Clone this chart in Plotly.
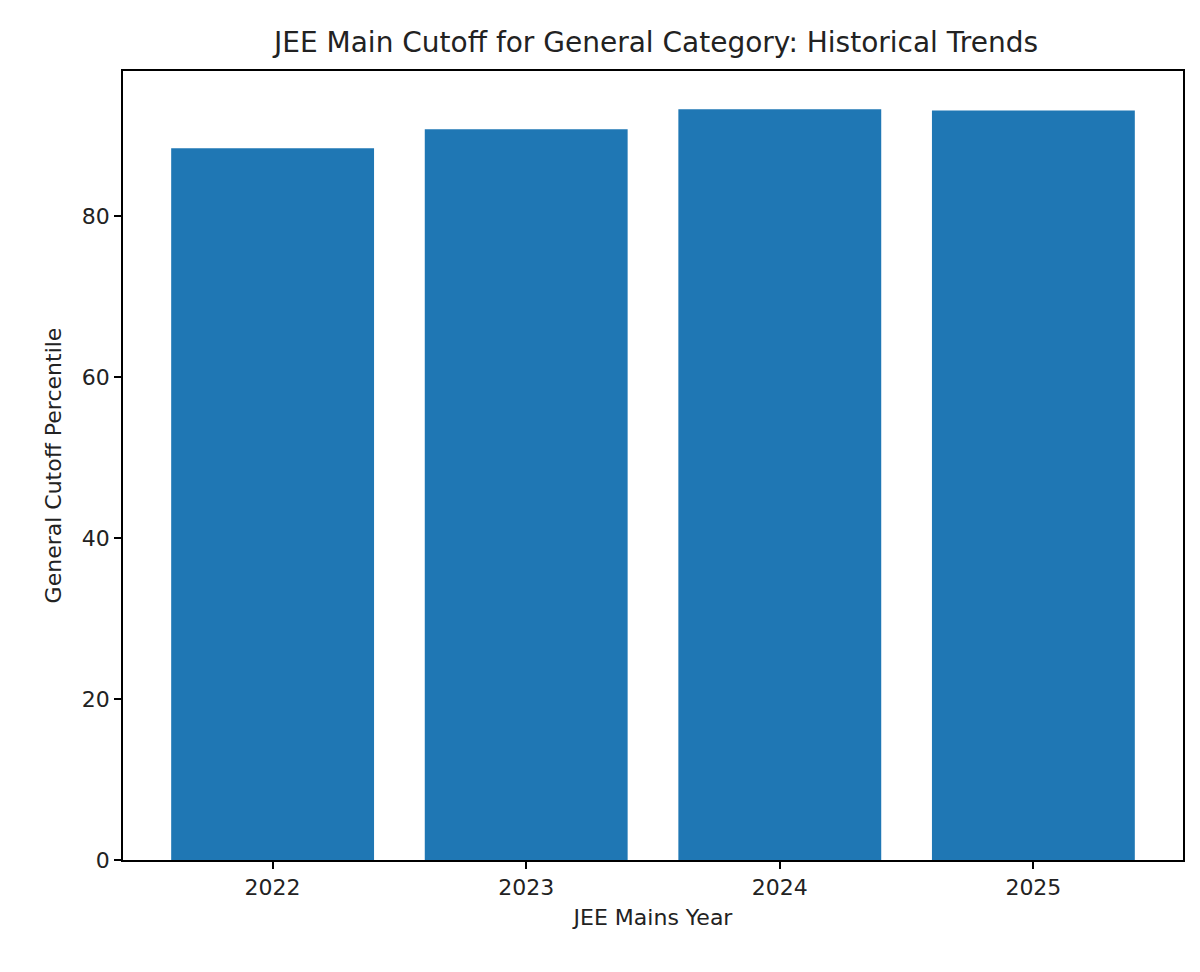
import plotly.graph_objects as go

years = ["2022", "2023", "2024", "2025"]
cutoffs = [88.4121, 90.7788, 93.2362, 93.1023]
xpos = [0, 1, 2, 3]

fig = go.Figure(go.Bar(x=xpos, y=cutoffs, width=0.8, marker_color="#1f77b4", marker_line_width=0))
axis_common = dict(showline=True, linecolor="black", linewidth=1.5, mirror=True, ticks="outside",
                   ticklen=7, tickwidth=1.5, tickcolor="black", showgrid=False, zeroline=False,
                   tickfont=dict(size=22, color="#222"))
fig.update_layout(
    width=1200, height=972, plot_bgcolor="white", paper_bgcolor="white",
    font=dict(family="DejaVu Sans", color="#222"),
    margin=dict(l=115, r=25, t=63, b=120),
    title=dict(text="JEE Main Cutoff for General Category: Historical Trends", x=0.54, xanchor="center",
               y=0.965, yanchor="middle", font=dict(size=28)),
    xaxis=dict(range=[-0.59, 3.59], tickvals=xpos, ticktext=years,
               title=dict(text="JEE Mains Year", font=dict(size=22), standoff=10), **axis_common),
    yaxis=dict(range=[0, 98.0], tickvals=[0, 20, 40, 60, 80],
               title=dict(text="General Cutoff Percentile", font=dict(size=22), standoff=14), **axis_common),
    showlegend=False,
)
fig.write_html("out.html")
